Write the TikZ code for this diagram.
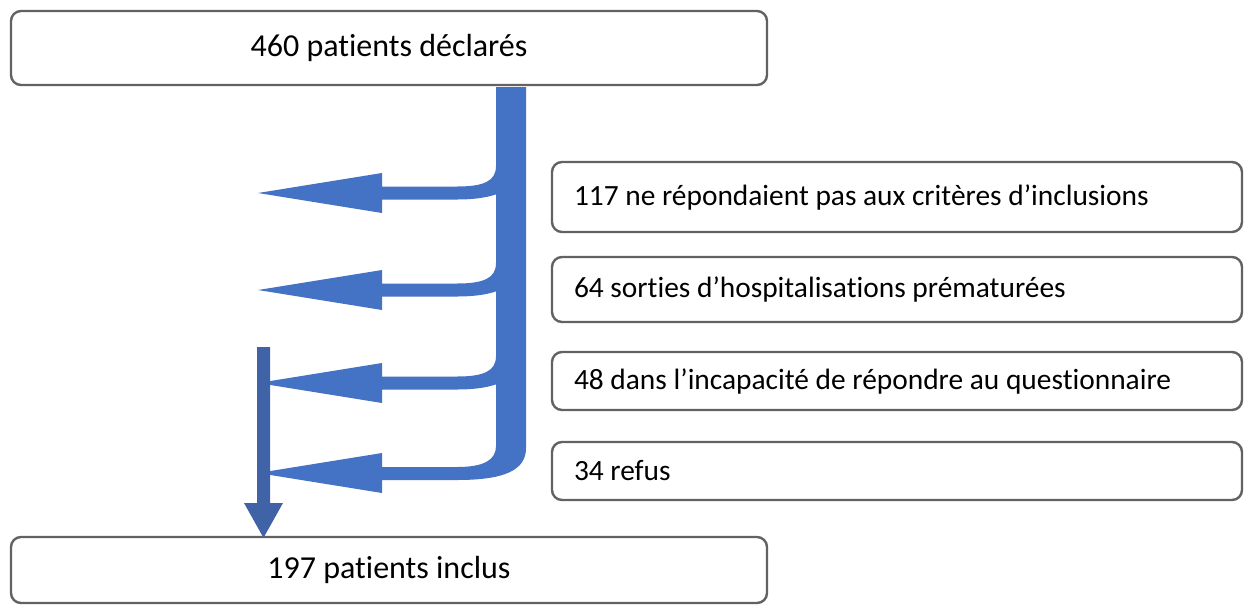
\documentclass[tikz,border=0pt]{standalone}
\usepackage{fontspec}
\setmainfont{Carlito}[RawFeature=-liga]
\usetikzlibrary{calc}
\definecolor{boxgray}{HTML}{626262}
\definecolor{flowblue}{HTML}{4472C4}
\definecolor{darkblue}{HTML}{4062A6}
\begin{document}
\begin{tikzpicture}[x=1pt,y=-1pt,
  mainbox/.style={draw=boxgray, line width=2.4pt, rounded corners=10pt, fill=white,
    minimum width=756pt, inner sep=0pt, font=\fontsize{32}{38}\selectfont},
  sidebox/.style={draw=boxgray, line width=2.4pt, rounded corners=10pt, fill=white,
    minimum width=690pt, inner sep=0pt},
  sidetext/.style={anchor=west, inner sep=0pt, font=\fontsize{29.4}{35}\selectfont}]
\useasboundingbox (0,0) rectangle (1244,606);

% boxes
\node[mainbox, minimum height=74pt] (top) at (389,48) {460 patients déclarés};
\node[mainbox, minimum height=66pt] (bottom) at (389,570) {197 patients inclus};
\node[sidebox, minimum height=70pt] (r1) at (897,197) {};
\node[sidebox, minimum height=65pt] (r2) at (897,289.5) {};
\node[sidebox, minimum height=58pt] (r3) at (897,381) {};
\node[sidebox, minimum height=58pt] (r4) at (897,471) {};
\node[sidetext] (t1) at ([xshift=23pt]r1.west) {117 ne répondaient pas aux critères d’inclusions};
\node[sidetext] (t2) at ([xshift=23pt]r2.west) {64 sorties d’hospitalisations prématurées};
\node[sidetext] (t3) at ([xshift=23pt]r3.west) {48 dans l’incapacité de répondre au questionnaire};
\node[sidetext] (t4) at ([xshift=23pt]r4.west) {34 refus};

% trunk with last branch
\fill[flowblue] (496,87) -- (526,87) -- (526,448)
  .. controls (526,470) and (505,480) .. (457,480) -- (382,480) -- (382,493)
  -- (258,473) -- (382,453) -- (382,467) -- (457,467)
  .. controls (484,467) and (496,460) .. (496,446) -- cycle;
% other branches
\foreach \c in {193,290,383}{
  \fill[flowblue] (496,\c-27) .. controls (496,\c-12) and (484,\c-6.5) .. (457,\c-6.5)
    -- (382,\c-6.5) -- (382,\c-20) -- (258,\c) -- (382,\c+20) -- (382,\c+6.5)
    -- (457,\c+6.5) .. controls (476,\c+6.5) and (489,\c+4) .. (497,\c+1) -- cycle;
}
% dark arrow to bottom box
\coordinate (dstart) at (263.5,347);
\coordinate (dtip) at ($(bottom.north -| dstart)+(0,2)$);
\fill[darkblue] (257,347) -- (270,347) -- (270,503) -- (283,503)
  -- (dtip) -- (244,503) -- (257,503) -- cycle;
\end{tikzpicture}
\end{document}
